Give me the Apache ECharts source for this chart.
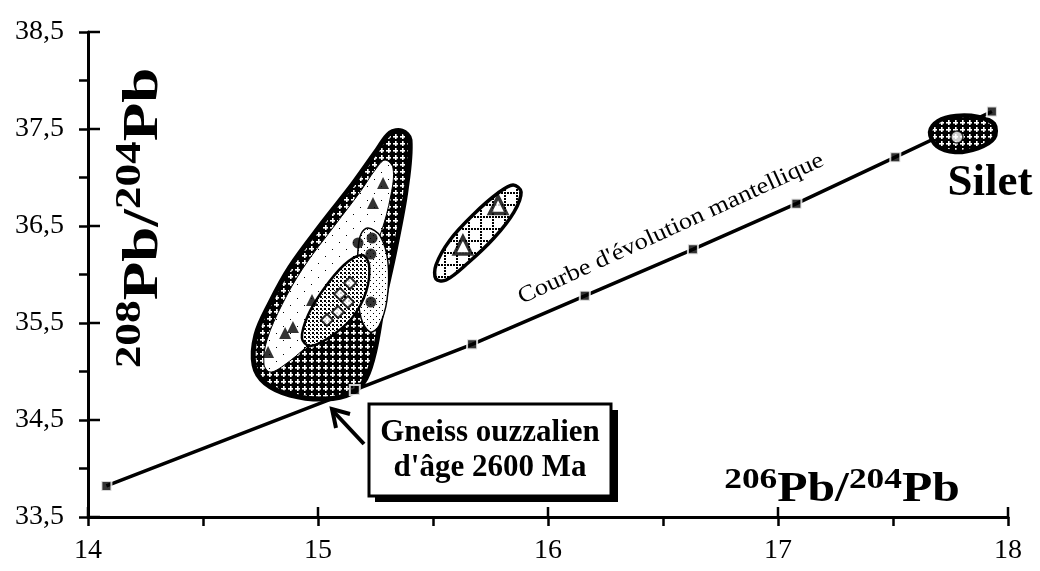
<!DOCTYPE html>
<html>
<head>
<meta charset="utf-8">
<script src="https://cdn.jsdelivr.net/npm/echarts@6/dist/echarts.min.js"></script>
<style>
  html, body { margin: 0; padding: 0; background: #fff; }
  #chart { width: 1040px; height: 571px; }
</style>
</head>
<body>
<div id="chart"></div>
<script>
// Mantle evolution curve (squares)
const mantleX = [14.08, 15.16, 15.67, 16.16, 16.63, 17.08, 17.51, 17.93];
const mantleY = [33.82, 34.81, 35.28, 35.78, 36.26, 36.73, 37.21, 37.68];

// Ouzzal samples
const triFilledX = [15.283, 15.239, 14.974, 14.891, 14.857, 14.783];
const triFilledY = [36.943, 36.737, 35.737, 35.459, 35.397, 35.201];
const circleX = [15.174, 15.235, 15.230, 15.230];
const circleY = [36.325, 36.376, 36.211, 35.716];
const diamondX = [15.139, 15.096, 15.130, 15.087, 15.039];
const diamondY = [35.912, 35.799, 35.716, 35.613, 35.531];
const triOpenX = [15.630, 15.783];
const triOpenY = [36.300, 36.716];
const siletX = [17.778];
const siletY = [37.418];

// Field outlines (206Pb/204Pb, 208Pb/204Pb)
const outerField = [[15.313,37.459],[15.365,37.479],[15.400,37.387],[15.383,36.871],[15.335,36.253],[15.283,35.686],[15.248,35.222],[15.209,34.933],[15.148,34.778],[15.030,34.716],[14.878,34.758],[14.770,34.881],[14.722,35.067],[14.730,35.376],[14.791,35.706],[14.878,36.077],[15.022,36.541],[15.148,36.923],[15.257,37.284]];
const innerField = [[15.291,37.180],[15.326,37.098],[15.317,36.820],[15.270,36.407],[15.191,35.995],[15.083,35.613],[14.957,35.273],[14.848,35.057],[14.791,34.995],[14.765,35.077],[14.778,35.325],[14.843,35.686],[14.935,36.067],[15.074,36.510],[15.183,36.851],[15.248,37.077]];
const diamondField = [[15.191,36.201],[15.222,36.098],[15.209,35.820],[15.148,35.552],[15.052,35.356],[14.965,35.263],[14.930,35.345],[14.957,35.582],[15.022,35.840],[15.113,36.098]];
const circleField = [[15.217,36.479],[15.270,36.397],[15.304,36.129],[15.300,35.737],[15.265,35.469],[15.226,35.407],[15.187,35.552],[15.170,35.892],[15.174,36.253],[15.187,36.418]];
const triangleField = [[15.848,36.923],[15.883,36.851],[15.852,36.644],[15.765,36.376],[15.652,36.119],[15.557,35.943],[15.513,35.954],[15.513,36.098],[15.574,36.356],[15.678,36.624],[15.783,36.840]];
const siletField = [[17.661,37.469],[17.696,37.582],[17.774,37.634],[17.870,37.624],[17.939,37.552],[17.939,37.407],[17.870,37.304],[17.770,37.263],[17.691,37.325]];

const xTicks = [14, 15, 16, 17, 18];
const yTicks = [33.5, 34.5, 35.5, 36.5, 37.5, 38.5];

const zip = (xs, ys) => xs.map((x, i) => [x, ys[i]]);
const serif = '"Liberation Serif", "Times New Roman", serif';
const comma = v => String(v).replace('.', ',');

// Fill patterns
function pattern(size, draw) {
  const c = document.createElement('canvas');
  c.width = c.height = size;
  const g = c.getContext('2d');
  draw(g);
  return { image: c, repeat: 'repeat' };
}
const crossHatch = pattern(7, g => {
  g.fillStyle = '#000'; g.fillRect(0, 0, 7, 7);
  g.fillStyle = '#fff'; g.fillRect(1, 3, 5, 1.6); g.fillRect(3, 1, 1.6, 5);
});
const sparseDots = pattern(14, g => {
  g.fillStyle = '#fff'; g.fillRect(0, 0, 14, 14);
  g.fillStyle = '#000'; g.fillRect(3, 4, 1, 1); g.fillRect(10, 11, 1, 1);
});
const gridDots = pattern(12, g => {
  g.fillStyle = '#fff'; g.fillRect(0, 0, 12, 12);
  g.fillStyle = '#000';
  for (let i = 0; i < 12; i += 3) { g.fillRect(i, 0, 2, 2); g.fillRect(0, i, 2, 2); }
});
const denseDots = pattern(4, g => {
  g.fillStyle = '#fff'; g.fillRect(0, 0, 4, 4);
  g.fillStyle = '#000'; g.fillRect(0, 0, 2, 2); g.fillRect(2, 2, 1, 1);
});
const lightDots = pattern(6, g => {
  g.fillStyle = '#fff'; g.fillRect(0, 0, 6, 6);
  g.fillStyle = '#000'; g.fillRect(1, 1, 1, 1); g.fillRect(4, 4, 1, 1);
});

function fieldSeries(outline, fill, lineWidth, z) {
  return {
    type: 'custom',
    z: z,
    silent: true,
    data: outline,
    renderItem: (params, api) => {
      if (params.dataIndex !== 0) return null;
      return {
        type: 'polygon',
        shape: { points: outline.map(p => api.coord(p)), smooth: 0.35 },
        style: { fill: fill, stroke: '#000', lineWidth: lineWidth }
      };
    }
  };
}

const chart = echarts.init(document.getElementById('chart'), null, { renderer: 'canvas' });

const tickStyle = { color: '#000', width: 2.5 };
const labelStyle = { color: '#000', fontFamily: serif, fontSize: 28 };

const labels = [
  // Y axis title
  {
    type: 'text', x: 144, y: 218, rotation: Math.PI / 2, scaleX: 1.26,
    style: {
      text: '{s|208}{m|Pb/}{s|204}{m|Pb}',
      align: 'center', verticalAlign: 'middle',
      rich: {
        m: { fontFamily: serif, fontWeight: 'bold', fontSize: 50, lineHeight: 50, verticalAlign: 'bottom', fill: '#000' },
        s: { fontFamily: serif, fontWeight: 'bold', fontSize: 36, lineHeight: 36, padding: [0, 0, 20, 0], verticalAlign: 'bottom', fill: '#000' }
      }
    }
  },
  // X axis title
  {
    type: 'text', x: 842, y: 490, scaleX: 1.18,
    style: {
      text: '{s|206}{m|Pb/}{s|204}{m|Pb}',
      align: 'center', verticalAlign: 'middle',
      rich: {
        m: { fontFamily: serif, fontWeight: 'bold', fontSize: 42, lineHeight: 42, verticalAlign: 'bottom', fill: '#000' },
        s: { fontFamily: serif, fontWeight: 'bold', fontSize: 30, lineHeight: 30, padding: [0, 0, 16, 0], verticalAlign: 'bottom', fill: '#000' }
      }
    }
  },
  // Silet label
  {
    type: 'text', x: 990, y: 183,
    style: { text: 'Silet', fontFamily: serif, fontWeight: 'bold', fontSize: 45, fill: '#000', align: 'center', verticalAlign: 'middle' }
  },
  // Curve label
  {
    type: 'text', x: 671, y: 229, rotation: 0.43, scaleX: 1.15,
    style: { text: "Courbe d'évolution mantellique", fontFamily: serif, fontSize: 23, fill: '#000', align: 'center', verticalAlign: 'middle' }
  },
  // Gneiss box with drop shadow
  {
    type: 'rect', z: 10, shape: { x: 375, y: 410, width: 243, height: 92 },
    style: { fill: '#000' }
  },
  {
    type: 'rect', z: 11, shape: { x: 369, y: 404, width: 242, height: 92 },
    style: { fill: '#fff', stroke: '#000', lineWidth: 3 }
  },
  {
    type: 'text', z: 12, x: 490, y: 450,
    style: {
      text: "Gneiss ouzzalien\nd'âge 2600 Ma", fontFamily: serif, fontWeight: 'bold', fontSize: 31, lineHeight: 35,
      fill: '#000', align: 'center', verticalAlign: 'middle'
    }
  },
  // Arrow to the gneiss point
  {
    type: 'polyline', z: 12, shape: { points: [[364, 444], [334, 412]] },
    style: { stroke: '#000', lineWidth: 4 }
  },
  {
    type: 'polyline', z: 12, shape: { points: [[350, 414], [332, 409], [336, 428]] },
    style: { stroke: '#000', lineWidth: 4, fill: null }
  }
];

chart.setOption({
  animation: false,
  backgroundColor: '#fff',
  grid: { left: 88, right: 32, top: 32, bottom: 54 },
  xAxis: {
    type: 'value', min: xTicks[0], max: xTicks[xTicks.length - 1], interval: 1,
    axisLine: { show: true, lineStyle: { color: '#000', width: 3 } },
    splitLine: { show: false },
    axisTick: { show: true, inside: false, length: 9, lineStyle: tickStyle },
    minorTick: { show: true, splitNumber: 2, length: 9, lineStyle: tickStyle },
    axisLabel: Object.assign({ margin: 20, formatter: comma }, labelStyle)
  },
  yAxis: {
    type: 'value', min: yTicks[0], max: yTicks[yTicks.length - 1], interval: 1,
    axisLine: { show: true, lineStyle: { color: '#000', width: 3 } },
    splitLine: { show: false },
    axisTick: { show: true, inside: false, length: 9, lineStyle: tickStyle },
    minorTick: { show: true, splitNumber: 2, length: 9, lineStyle: tickStyle },
    axisLabel: Object.assign({ margin: 24, formatter: comma }, labelStyle)
  },
  series: [
    {
      type: 'line', z: 1, silent: true,
      data: zip(mantleX, mantleY),
      showSymbol: false,
      lineStyle: { color: '#000', width: 3.5 }
    },
    fieldSeries(outerField, crossHatch, 5, 2),
    fieldSeries(innerField, sparseDots, 1, 3),
    fieldSeries(circleField, lightDots, 1.5, 4),
    fieldSeries(diamondField, denseDots, 2.5, 5),
    fieldSeries(triangleField, gridDots, 3.5, 2),
    fieldSeries(siletField, crossHatch, 4.5, 2),
    {
      type: 'scatter', z: 8, silent: true,
      data: zip(mantleX, mantleY),
      symbol: 'rect', symbolSize: 10,
      itemStyle: { color: '#000', borderColor: '#fff', borderWidth: 2 }
    },
    {
      type: 'scatter', z: 8, silent: true,
      data: zip(triFilledX, triFilledY),
      symbol: 'triangle', symbolSize: 12,
      itemStyle: { color: '#000' }
    },
    {
      type: 'scatter', z: 8, silent: true,
      data: zip(circleX, circleY),
      symbol: 'circle', symbolSize: 11,
      itemStyle: { color: '#000' }
    },
    {
      type: 'scatter', z: 8, silent: true,
      data: zip(diamondX, diamondY),
      symbol: 'diamond', symbolSize: 12,
      itemStyle: { color: '#fff', borderColor: '#000', borderWidth: 2 }
    },
    {
      type: 'scatter', z: 8, silent: true,
      data: zip(triOpenX, triOpenY),
      symbol: 'triangle', symbolSize: 17,
      itemStyle: { color: '#fff', borderColor: '#000', borderWidth: 3.5 }
    },
    {
      type: 'scatter', z: 8, silent: true,
      data: zip(siletX, siletY),
      symbol: 'circle', symbolSize: 12,
      itemStyle: { color: '#fff', borderColor: '#000', borderWidth: 1.5 }
    }
  ]
});

// Major ticks also cross to the inner side of each axis
const gx0 = chart.convertToPixel({ xAxisIndex: 0 }, xTicks[0]);
const gy0 = chart.convertToPixel({ yAxisIndex: 0 }, yTicks[0]);
const tickMarks = [];
xTicks.forEach(v => {
  const px = chart.convertToPixel({ xAxisIndex: 0 }, v);
  tickMarks.push({ type: 'rect', z: 20, shape: { x: px - 1.25, y: gy0 - 10, width: 2.5, height: 10 }, style: { fill: '#000' } });
});
yTicks.forEach(v => {
  const py = chart.convertToPixel({ yAxisIndex: 0 }, v);
  tickMarks.push({ type: 'rect', z: 20, shape: { x: gx0, y: py - 1.25, width: 12, height: 2.5 }, style: { fill: '#000' } });
});

chart.setOption({ graphic: labels.concat(tickMarks) });
</script>
</body>
</html>
